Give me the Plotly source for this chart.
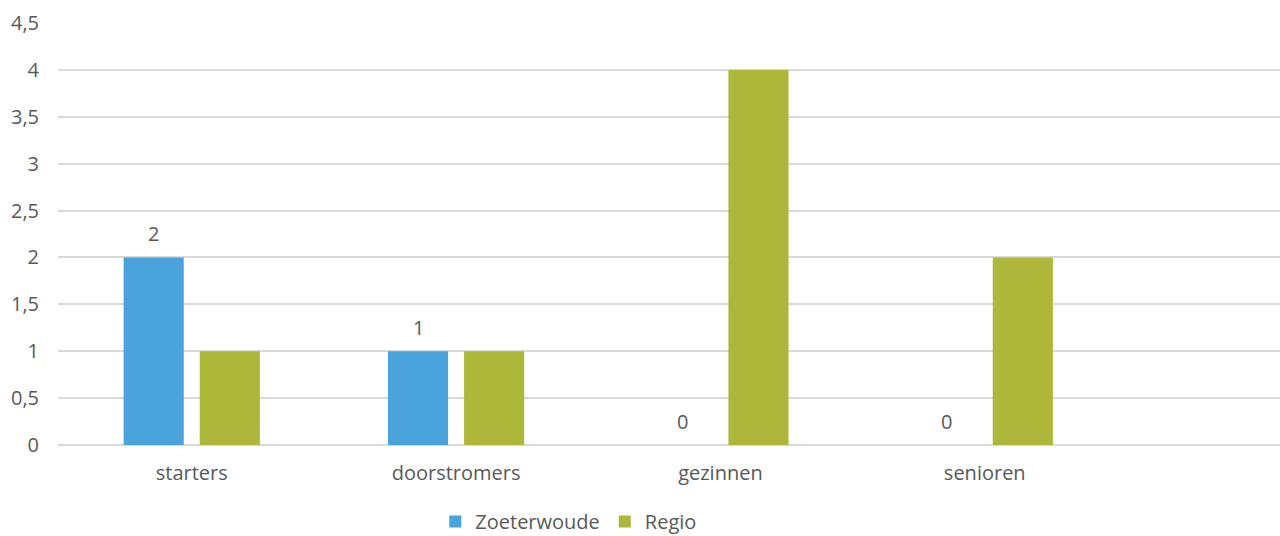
import plotly.graph_objects as go

categories = ["starters", "doorstromers", "gezinnen", "senioren"]
zoeterwoude = [2, 1, 0, 0]
regio = [1, 1, 4, 2]

y_ticks = [0, 0.5, 1, 1.5, 2, 2.5, 3, 3.5, 4, 4.5]

BLUE = "#4AA3DB"
GREEN = "#ADB83B"
TEXT = "#595959"
GRID = "#D9D9D9"
FONT = "Open Sans"

fig = go.Figure()
fig.add_trace(go.Bar(
    name="Zoeterwoude", x=categories, y=zoeterwoude,
    marker=dict(color=BLUE, line=dict(width=0)),
))
fig.add_trace(go.Bar(
    name="Regio", x=categories, y=regio,
    marker=dict(color=GREEN, line=dict(width=0)),
))

# data labels for Zoeterwoude, placed above its bars
for c, v in zip(categories, zoeterwoude):
    fig.add_annotation(x=c, y=v, xref="x", yref="y", text=str(v), showarrow=False,
                       xshift=-38, yshift=24, yanchor="middle",
                       font=dict(size=20, color=TEXT, family=FONT))

fig.update_layout(
    width=1280, height=536,
    margin=dict(l=58, r=0, t=23, b=91, autoexpand=False),
    paper_bgcolor="white", plot_bgcolor="white",
    barmode="group", bargap=0.424, bargroupgap=0.21,
    separators=",.",
    font=dict(family=FONT, size=20, color=TEXT),
    showlegend=True,
    legend=dict(orientation="h", x=0.418, xanchor="center", y=-0.2275, yanchor="bottom",
                font=dict(size=20, color=TEXT, family=FONT), itemwidth=30,
                bgcolor="rgba(0,0,0,0)"),
    xaxis=dict(range=[-0.506, 4.117], showgrid=False, zeroline=False, showline=False,
               automargin=False,
               ticks="", ticklabelstandoff=14, tickfont=dict(size=20, color=TEXT)),
    yaxis=dict(range=[0, 4.5], tickvals=y_ticks, showgrid=True, gridcolor=GRID, gridwidth=2,
               zeroline=True, zerolinecolor=GRID, zerolinewidth=2, showline=False,
               automargin=False,
               ticks="", ticklabelstandoff=18, tickfont=dict(size=20, color=TEXT)),
)

fig.write_html("out.html")
